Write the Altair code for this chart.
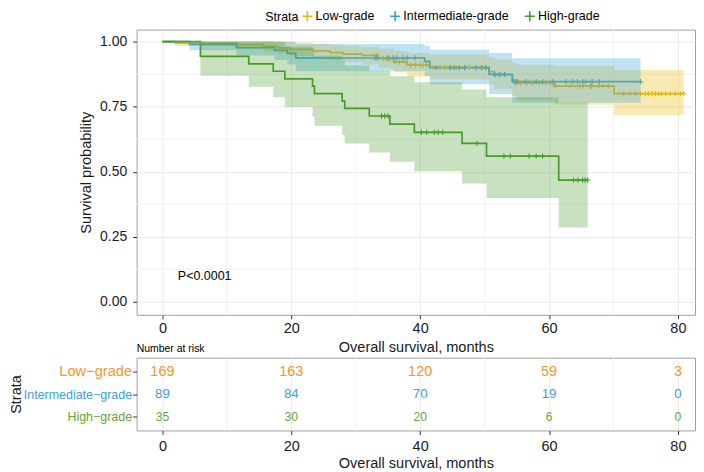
import altair as alt
import pandas as pd

FONT = "Liberation Sans"

groups = ["Low-grade", "Intermediate-grade", "High-grade"]
table_groups = ["Low\u2212grade", "Intermediate\u2212grade", "High\u2212grade"]
line_colors = ["#E7B800", "#2E9FDF", "#4A9A2A"]
table_colors = ["#F5962A", "#3C9FDB", "#6AA336"]

# ---- Kaplan-Meier step curves ----
low_time = [0, 2.0, 11.6, 15.7, 18.0, 19.8, 23.4, 26.0, 28.0, 31.0, 33.5, 36.0, 38.0, 41.5, 50.7, 51.5, 54.3, 55.0, 60.8, 70.1, 80.9]
low_surv = [1.0, .994, .988, .982, .976, .970, .964, .958, .952, .947, .934, .922, .910, .901, .885, .872, .853, .840, .829, .800, .800]
low_lower = [1.0, .983, .972, .962, .953, .945, .937, .929, .921, .913, .897, .881, .866, .854, .834, .817, .792, .775, .757, .718, .718]
low_upper = [1.0, 1.0, 1.0, 1.0, .999, .996, .992, .988, .984, .980, .972, .964, .956, .950, .940, .931, .919, .911, .905, .891, .891]

int_time = [0, 4.2, 11.5, 17.4, 19.4, 20.7, 40.7, 41.5, 50.7, 54.3, 74.2]
int_surv = [1.0, .989, .977, .966, .955, .937, .924, .900, .874, .846, .846]
int_lower = [1.0, .967, .947, .929, .913, .886, .868, .836, .799, .765, .765]
int_upper = [1.0, 1.0, 1.0, 1.0, .999, .991, .983, .969, .956, .936, .936]

high_time = [0, 5.9, 13.4, 17.2, 19.0, 23.3, 23.6, 27.9, 28.3, 32.1, 35.3, 39.1, 46.5, 50.3, 61.5, 66.0]
high_surv = [1.0, .943, .914, .886, .857, .829, .800, .771, .743, .714, .683, .651, .609, .560, .468, .468]
high_lower = [1.0, .869, .826, .786, .749, .712, .677, .641, .608, .574, .538, .502, .455, .399, .286, .286]
high_upper = [1.0, 1.0, 1.0, .998, .981, .964, .946, .927, .908, .888, .867, .844, .816, .786, .766, .766]

# ---- censor marks ----
low_cens_time = [33.2, 34.3, 34.8, 35.3, 36.1, 36.8, 37.6, 38.5, 39.3, 40.0, 40.5, 41.0,
                 42.0, 43.1, 43.8, 44.8, 45.6, 46.9, 47.6, 49.7, 51.7, 52.4, 53.2,
                 54.8, 55.6, 56.6, 57.4, 58.4, 59.5, 60.2,
                 61.0, 63.3, 64.8, 65.3, 66.4, 66.6, 67.7, 68.4, 69.2,
                 71.6, 72.6, 73.4, 74.2, 74.9, 75.4, 76.0, 76.5, 77.0, 77.5, 78.1, 78.8, 79.6, 80.4, 80.9]
low_cens_surv = [.947, .934, .934, .934, .922, .922, .922, .910, .910, .910, .910, .910,
                 .901, .901, .901, .901, .901, .901, .901, .901, .872, .872, .872,
                 .840, .840, .840, .840, .840, .840, .840,
                 .829, .829, .829, .829, .829, .829, .829, .829, .829,
                 .800, .800, .800, .800, .800, .800, .800, .800, .800, .800, .800, .800, .800, .800, .800]

int_cens_time = [33.0, 33.3, 35.0, 35.8, 36.4, 37.3, 38.0, 39.2,
                 42.5, 44.6, 45.3, 46.1, 46.9, 48.7, 49.5, 50.2,
                 51.5, 52.3, 53.1,
                 54.6, 55.1, 56.4, 58.0, 59.0, 60.6, 62.6, 63.7, 64.4, 65.2, 65.7, 66.7, 67.8, 74.2]
int_cens_surv = [.937, .937, .937, .937, .937, .937, .937, .937,
                 .900, .900, .900, .900, .900, .900, .900, .900,
                 .874, .874, .874,
                 .846, .846, .846, .846, .846, .846, .846, .846, .846, .846, .846, .846, .846, .846]

high_cens_time = [34.0, 34.5, 35.0, 40.2, 41.0, 42.2, 42.8, 43.5, 48.8,
                  53.0, 54.0, 56.9, 58.0, 59.0, 63.8, 64.5, 65.2, 65.6, 66.0]
high_cens_surv = [.714, .714, .714, .651, .651, .651, .651, .651, .609,
                  .560, .560, .560, .560, .560, .468, .468, .468, .468, .468]

# ---- number at risk ----
risk_times = [0, 20, 40, 60, 80]
risk_low = [169, 163, 120, 59, 3]
risk_int = [89, 84, 70, 19, 0]
risk_high = [35, 30, 20, 6, 0]

major_x = [0, 20, 40, 60, 80]
minor_x = [10, 30, 50, 70]
major_y = [0, 0.25, 0.5, 0.75, 1.0]
minor_y = [0.125, 0.375, 0.625, 0.875]

curves = pd.concat([
    pd.DataFrame({"strata": groups[0], "time": low_time, "surv": low_surv, "lower": low_lower, "upper": low_upper}),
    pd.DataFrame({"strata": groups[1], "time": int_time, "surv": int_surv, "lower": int_lower, "upper": int_upper}),
    pd.DataFrame({"strata": groups[2], "time": high_time, "surv": high_surv, "lower": high_lower, "upper": high_upper}),
])
cens = pd.concat([
    pd.DataFrame({"strata": groups[0], "time": low_cens_time, "surv": low_cens_surv}),
    pd.DataFrame({"strata": groups[1], "time": int_cens_time, "surv": int_cens_surv}),
    pd.DataFrame({"strata": groups[2], "time": high_cens_time, "surv": high_cens_surv}),
])
risk = pd.concat([
    pd.DataFrame({"strata": table_groups[0], "time": risk_times, "n": risk_low}),
    pd.DataFrame({"strata": table_groups[1], "time": risk_times, "n": risk_int}),
    pd.DataFrame({"strata": table_groups[2], "time": risk_times, "n": risk_high}),
])

W = 560
XDOM = [-4, -4 + W / 6.4625]
PLUS = "M-1,0H1M0,-1V1"

xscale = alt.Scale(domain=XDOM, nice=False, zero=False)
yscale = alt.Scale(domain=[-0.0498, 1.046], nice=False, zero=False)
cscale = alt.Scale(domain=groups, range=line_colors)

x_axis = alt.Axis(values=major_x, title="Overall survival, months", labelFontSize=14.5,
                  titleFontSize=14.6, tickSize=4, labelPadding=3, titlePadding=4,
                  gridColor="#EBEBEB")
y_axis = alt.Axis(values=major_y, format=".2f", title="Survival probability", labelFontSize=14,
                  titleFontSize=14.6, tickSize=4, labelPadding=6, titlePadding=6,
                  gridColor="#EBEBEB")
legend = alt.Legend(title="Strata", orient="none", legendX=129, legendY=-20, direction="horizontal",
                    titleOrient="left", titleFontSize=12.5, titleFontWeight="normal", labelFontSize=12.5,
                    symbolType=PLUS, symbolSize=100, symbolStrokeWidth=1.6, columnPadding=12,
                    labelOffset=2, titlePadding=2, symbolFillColor="transparent")

X = alt.X("time:Q", scale=xscale, axis=x_axis)
C = alt.Color("strata:N", scale=cscale, legend=legend)

minor_v = alt.Chart(pd.DataFrame({"time": minor_x})).mark_rule(color="#F2F2F2", strokeWidth=1).encode(x=X)
minor_h = alt.Chart(pd.DataFrame({"surv": minor_y})).mark_rule(color="#F2F2F2", strokeWidth=1).encode(
    y=alt.Y("surv:Q", scale=yscale, axis=y_axis))

lines = alt.Chart(curves).mark_line(interpolate="step-after", strokeWidth=1.7).encode(
    x=X, y=alt.Y("surv:Q", scale=yscale, axis=y_axis), color=C)
marks = alt.Chart(cens).mark_point(shape=PLUS, size=28, strokeWidth=1.1, filled=False, opacity=1).encode(
    x=X, y=alt.Y("surv:Q", scale=yscale, axis=y_axis), color=C)
bands = alt.Chart(curves).mark_area(interpolate="step-after", opacity=0.3).encode(
    x=X, y=alt.Y("lower:Q", scale=yscale, axis=y_axis), y2="upper:Q", color=C)
ptext = alt.Chart(pd.DataFrame({"label": ["P<0.0001"]})).mark_text(
    align="left", baseline="middle", fontSize=12.5, font=FONT, color="#000").encode(
    x=alt.datum(2.4), y=alt.datum(0.1), text="label:N")

main = alt.layer(minor_v, minor_h, lines, marks, bands, ptext).properties(width=W, height=286)

# ---- risk table ----
cond_color = {"condition": [{"test": f"datum.value === '{table_groups[0]}'", "value": table_colors[0]},
                            {"test": f"datum.value === '{table_groups[1]}'", "value": table_colors[1]}],
              "value": table_colors[2]}
cond_size = {"condition": {"test": f"datum.value === '{table_groups[0]}'", "value": 14.7}, "value": 12.5}

tx_axis = alt.Axis(values=major_x, title="Overall survival, months", labelFontSize=14.5,
                   titleFontSize=14.6, tickSize=4, labelPadding=5, titlePadding=3, gridColor="#EBEBEB")
ty_axis = alt.Axis(title="Strata", titleFontSize=14.5, labelColor=cond_color, labelFontSize=cond_size,
                   tickSize=4, labelPadding=1, titleX=-120.5, titleBaseline="middle", gridColor="#EBEBEB")
TY = alt.Y("strata:N", sort=table_groups, scale=alt.Scale(type="point", padding=0.62, domain=table_groups),
           axis=ty_axis)
TX = alt.X("time:Q", scale=xscale, axis=tx_axis)

tminor = alt.Chart(pd.DataFrame({"time": minor_x})).mark_rule(color="#F2F2F2", strokeWidth=1).encode(x=TX)
ttext = alt.Chart(risk).mark_text(font=FONT).encode(
    x=TX, y=TY, text="n:Q",
    color=alt.Color("strata:N", scale=alt.Scale(domain=table_groups, range=table_colors), legend=None),
    size=alt.Size("strata:N", scale=alt.Scale(domain=table_groups, range=[14.5, 12.2, 12.2]), legend=None))

table = alt.layer(tminor, ttext).properties(
    width=W, height=73,
    title=alt.TitleParams("Number at risk", anchor="start", frame="group", fontSize=10.5,
                          fontWeight="normal", offset=3, font=FONT, color="#000"))

chart = alt.vconcat(main, table, spacing=43, bounds="flush").resolve_scale(
    color="independent", size="independent", x="independent", y="independent"
).properties(padding=0).configure_axis(
    labelFont=FONT, titleFont=FONT, domain=False, tickColor="#333333", labelColor="#1a1a1a",
    titleColor="#1a1a1a", titleFontWeight="normal"
).configure_view(stroke="#A0A0A0").configure_legend(labelFont=FONT, titleFont=FONT).configure_title(font=FONT)

chart.save("out.html", embed_options={"renderer": "svg", "actions": False})
